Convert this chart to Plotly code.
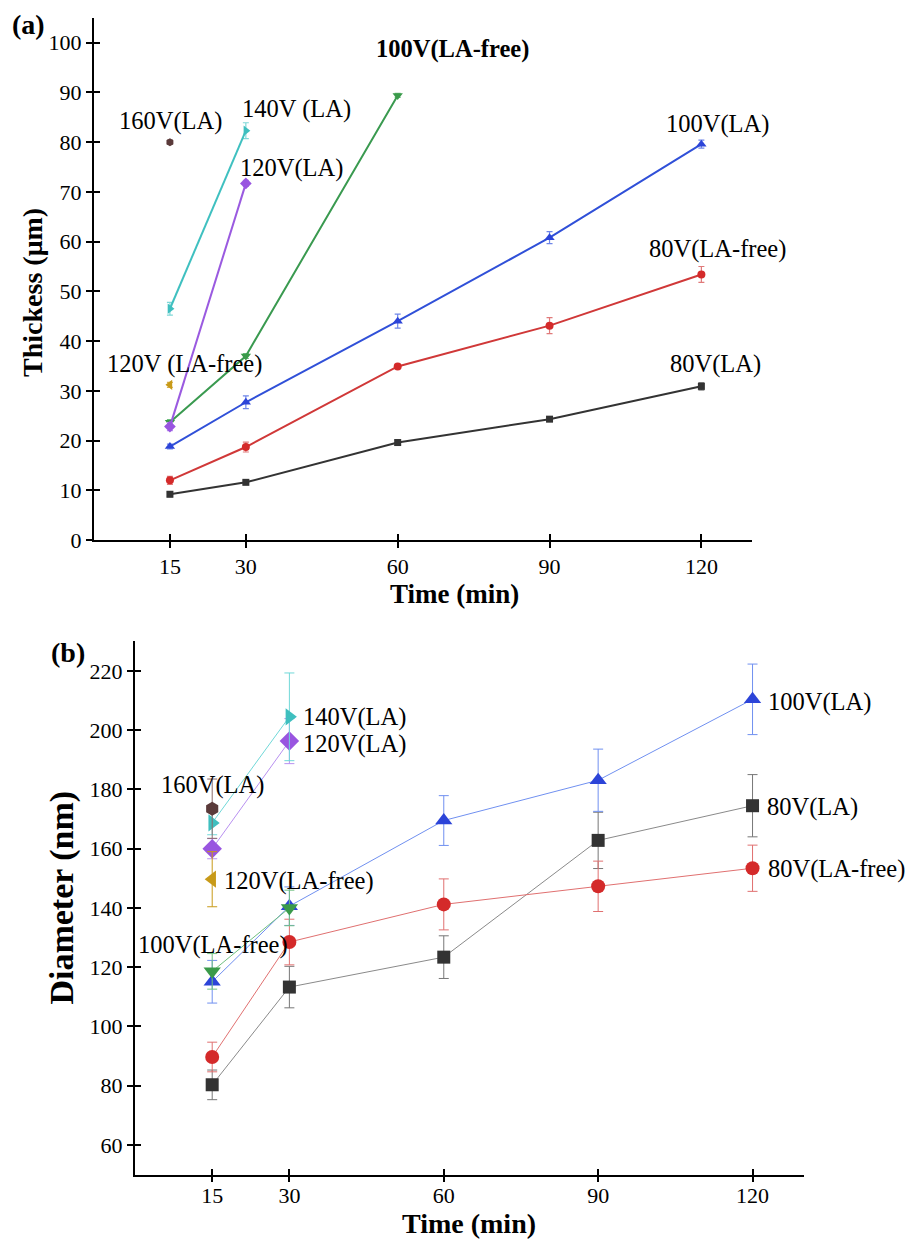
import plotly.graph_objects as go

# ---------------- data ----------------
time_all = [15, 30, 60, 90, 120]
time_3 = [15, 30, 60]
time_2 = [15, 30]
time_1 = [15]

# (a) thickness (um)
a_80LA = [9.2, 11.6, 19.6, 24.3, 30.9]
a_80LA_err = [0.5, 0.4, 0.5, 0.4, 0.7]
a_80free = [12.0, 18.7, 34.9, 43.1, 53.4]
a_80free_err = [0.8, 1.0, 0.4, 1.6, 1.6]
a_100LA = [18.8, 27.7, 44.0, 60.8, 79.6]
a_100LA_err = [0.5, 1.3, 1.4, 1.2, 0.8]
a_100free = [23.7, 37.0, 89.4]
a_100free_err = [0.5, 0.5, 0.4]
a_120LA = [22.8, 71.7]
a_120LA_err = [0.8, 0.6]
a_120free = [31.2]
a_120free_err = [0.5]
a_140LA = [46.5, 82.3]
a_140LA_err = [1.3, 1.6]
a_160LA = [80.0]
a_160LA_err = [0.4]

# (b) diameter (nm)
b_80LA = [80.3, 113.3, 123.4, 162.8, 174.5]
b_80LA_err = [5.0, 7.0, 7.2, 9.5, 10.5]
b_80free = [89.7, 128.5, 141.2, 147.3, 153.4]
b_80free_err = [5.0, 7.7, 8.6, 8.5, 7.8]
b_100LA = [115.1, 140.6, 169.5, 183.1, 210.4]
b_100LA_err = [7.2, 6.5, 8.4, 10.5, 11.9]
b_100free = [118.6, 140.0]
b_100free_err = [6.0, 6.0]
b_120LA = [160.0, 196.3]
b_120LA_err = [3.4, 7.6]
b_120free = [149.7]
b_120free_err = [9.3]
b_140LA = [168.7, 204.5]
b_140LA_err = [4.0, 14.8]
b_160LA = [173.5]
b_160LA_err = [10.0]

x_ticks = [15, 30, 60, 90, 120]
a_yticks = list(range(0, 101, 10))
b_yticks = list(range(60, 221, 20))

FONT = "Liberation Serif"

fig = go.Figure()

def add(x, y, err, sym, mcol, lcol, ecol, size, lw, ax, ay, ew, cap):
    fig.add_trace(go.Scatter(
        x=x, y=y, mode="lines+markers", xaxis=ax, yaxis=ay,
        marker=dict(symbol=sym, color=mcol, size=size, line=dict(width=0)),
        line=dict(color=lcol, width=lw),
        error_y=dict(type="data", array=err, color=ecol, thickness=ew, width=cap, visible=True),
        showlegend=False, hoverinfo="skip"))

# panel (a)
sa = 8
add(time_all, a_80LA, a_80LA_err, "square", "#333333", "#333333", "#555555", sa - 1, 2, "x", "y", 1.2, 3)
add(time_all, a_80free, a_80free_err, "circle", "#d42a2a", "#d03838", "#e07a7a", sa, 2, "x", "y", 1.2, 3)
add(time_all, a_100LA, a_100LA_err, "triangle-up", "#2c44d8", "#3050d8", "#6f86e8", sa + 1, 2, "x", "y", 1.2, 3)
add(time_3, a_100free, a_100free_err, "triangle-down", "#3a9a4a", "#3a9a50", "#6fbf7f", sa + 1, 2, "x", "y", 1.2, 3)
add(time_2, a_120LA, a_120LA_err, "diamond", "#9955e0", "#9a5ae0", "#b890f0", sa + 1, 2, "x", "y", 1.2, 3)
add(time_1, a_120free, a_120free_err, "triangle-left", "#c89a18", "#c89a18", "#d8b050", sa + 1, 2, "x", "y", 1.2, 3)
add(time_2, a_140LA, a_140LA_err, "triangle-right", "#3fbfbf", "#3fc0c0", "#7fd8d8", sa + 1, 2, "x", "y", 1.2, 3)
add(time_1, a_160LA, a_160LA_err, "hexagon", "#5a3a3a", "#5a3a3a", "#8a6a6a", sa, 2, "x", "y", 1.2, 3)

# panel (b)
sb = 14
add(time_all, b_80LA, b_80LA_err, "square", "#333333", "#8a8a8a", "#777777", sb - 1, 1, "x2", "y2", 1, 5)
add(time_all, b_80free, b_80free_err, "circle", "#d42a2a", "#e07070", "#e07070", sb, 1, "x2", "y2", 1, 5)
add(time_all, b_100LA, b_100LA_err, "triangle-up", "#2c44d8", "#7090f0", "#7090f0", sb + 1, 1, "x2", "y2", 1, 5)
add(time_2, b_100free, b_100free_err, "triangle-down", "#3a9a4a", "#70c080", "#70c080", sb + 1, 1, "x2", "y2", 1, 5)
add(time_2, b_120LA, b_120LA_err, "diamond", "#9955e0", "#b890f0", "#b890f0", sb + 1, 1, "x2", "y2", 1, 5)
add(time_1, b_120free, b_120free_err, "triangle-left", "#c89a18", "#c89a18", "#c89a18", sb + 1, 1, "x2", "y2", 1, 5)
add(time_2, b_140LA, b_140LA_err, "triangle-right", "#3fbfbf", "#70d8d8", "#70d8d8", sb + 1, 1, "x2", "y2", 1, 5)
add(time_1, b_160LA, b_160LA_err, "hexagon", "#5a3a3a", "#5a3a3a", "#8a6a6a", sb, 1, "x2", "y2", 1, 5)

# empty traces for overlay (tick-only) axes
for ax, ay in [("x3", "y3"), ("x4", "y4")]:
    fig.add_trace(go.Scatter(x=[], y=[], xaxis=ax, yaxis=ay, showlegend=False, hoverinfo="skip"))

W, H = 907, 1249
def px_x(p):
    return p / W
def px_y(p):
    return 1 - p / H

a_dx = [px_x(94), px_x(752)]
a_dy = [px_y(545.7), px_y(18)]
b_dx = [px_x(135), px_x(804)]
b_dy = [px_y(1187), px_y(648)]

tickfont = dict(family=FONT, size=22, color="black")
common = dict(showline=True, linecolor="black", linewidth=2, showgrid=False, zeroline=False,
              ticks="outside", ticklen=6, tickwidth=2, tickcolor="black", tickfont=tickfont)
inner = dict(showline=False, showgrid=False, zeroline=False, ticks="inside", ticklen=6,
             tickwidth=2, tickcolor="black", showticklabels=False)

# (b) x axis: labels drawn by main axis with inside ticks (labels sit closer to the line),
# outside tick halves drawn by the overlay axis
bx_main = dict(common)
bx_main["ticks"] = "inside"
bx_over = dict(inner)
bx_over["ticks"] = "outside"

fig.update_layout(
    width=W, height=H, margin=dict(l=0, r=0, t=0, b=0),
    paper_bgcolor="white", plot_bgcolor="white",
    xaxis=dict(domain=a_dx, range=[0, 130], anchor="y", tickvals=x_ticks, **common),
    yaxis=dict(domain=a_dy, range=[0, 105], anchor="x", tickvals=a_yticks, **common),
    xaxis2=dict(domain=b_dx, range=[0, 130], anchor="y2", tickvals=x_ticks, **bx_main),
    yaxis2=dict(domain=b_dy, range=[50, 230], anchor="x2", tickvals=b_yticks, **common),
    xaxis3=dict(overlaying="x", anchor="y", range=[0, 130], tickvals=x_ticks, **inner),
    yaxis3=dict(overlaying="y", anchor="x", range=[0, 105], tickvals=a_yticks, **inner),
    xaxis4=dict(overlaying="x2", anchor="y2", range=[0, 130], tickvals=x_ticks, **bx_over),
    yaxis4=dict(overlaying="y2", anchor="x2", range=[50, 230], tickvals=b_yticks, **inner),
)

lab = dict(family=FONT, size=24.5, color="black")
def note(x, y, text, ax="x", ay="y", xanchor="center", font=lab):
    fig.add_annotation(x=x, y=y, xref=ax, yref=ay, text=text, showarrow=False,
                       xanchor=xanchor, yanchor="middle", font=font)

# panel (a) labels
note(15.2, 84.2, "160V(LA)")
note(40.0, 86.6, "140V (LA)")
note(39.0, 74.8, "120V(LA)")
note(70.9, 98.7, "<b>100V(LA-free)</b>")
note(123.2, 83.6, "100V(LA)")
note(123.1, 58.6, "80V(LA-free)")
note(122.8, 35.3, "80V(LA)")
note(17.8, 35.3, "120V (LA-free)")

# panel (b) labels
note(32.3, 204.3, "140V(LA)", "x2", "y2", "left")
note(32.3, 195.4, "120V(LA)", "x2", "y2", "left")
note(15.0, 181.4, "160V(LA)", "x2", "y2")
note(17.0, 149.1, "120V(LA-free)", "x2", "y2", "left")
note(15.2, 127.4, "100V(LA-free)", "x2", "y2")
note(122.6, 209.5, "100V(LA)", "x2", "y2", "left")
note(122.5, 174.2, "80V(LA)", "x2", "y2", "left")
note(122.6, 153.0, "80V(LA-free)", "x2", "y2", "left")

# axis titles and panel letters
def ptext(x, y, text, size, angle=0):
    fig.add_annotation(x=px_x(x), y=px_y(y), xref="paper", yref="paper", text=text,
                       showarrow=False, xanchor="center", yanchor="middle", textangle=angle,
                       font=dict(family=FONT, size=size, color="black"))

ptext(28, 25, "<b>(a)</b>", 28)
ptext(33, 296, "<b>Thickess (μm)</b>", 28, -90)
ptext(454, 600, "<b>Time (min)</b>", 27)
ptext(68, 659, "<b>(b)</b>", 28)
ptext(62, 907, "<b>Diameter (nm)</b>", 34, -90)
ptext(469, 1236.5, "<b>Time (min)</b>", 28)

fig.write_html(
    "out.html",
    config={"displayModeBar": False},
    post_script="document.body.style.margin='0';document.documentElement.style.overflow='hidden';",
)
